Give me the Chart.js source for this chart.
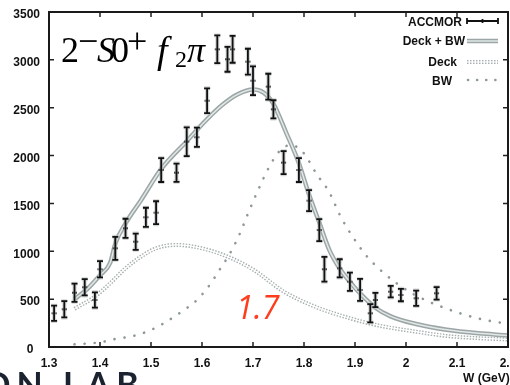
<!DOCTYPE html>
<html><head><meta charset="utf-8">
<script src="https://cdn.jsdelivr.net/npm/chart.js@4.4.1/dist/chart.umd.min.js"></script>
<style>
html,body{margin:0;padding:0;overflow:hidden;background:#fff;width:510px;height:385px;}
#wrap{position:relative;width:514px;height:385px;overflow:hidden;}
canvas{position:absolute;left:0;top:0;}
.t{position:absolute;white-space:nowrap;}
.s{font-family:"Liberation Serif","Times New Roman",serif;color:#000;font-size:36px;line-height:36px;}
</style></head><body>
<div id="wrap">
<canvas id="c" width="514" height="385"></canvas>
<span class="t s" style="left:61px;top:32px;">2</span>
<span class="t s" style="left:78px;top:23px;">&minus;</span>
<span class="t s" style="left:97px;top:32px;font-style:italic;">S</span>
<span class="t s" style="left:111px;top:32px;">0</span>
<span class="t s" style="left:127px;top:23px;">+</span>
<span class="t s" style="left:157px;top:32px;font-style:italic;font-size:38px;">f</span>
<span class="t s" style="left:175px;top:47px;font-size:24px;line-height:24px;">2</span>
<span class="t s" style="left:187px;top:32px;font-style:italic;">&pi;</span>
<span class="t" style="left:236px;top:291px;font:italic 400 32px 'Open Sans',sans-serif;line-height:32px;color:#ff3c1e;">1.7</span>
<span class="t" style="left:-17px;top:367px;font:700 34px Lato,sans-serif;line-height:34px;letter-spacing:6px;color:#1c2330;">ON LAB</span>
<span class="t" style="left:463px;top:371px;font:700 12px 'Liberation Sans',Arial,sans-serif;line-height:14px;color:#111;">W (GeV)</span>
</div>
<script>
// ACCMOR measurements
const accX   = [1.31,1.33,1.35,1.37,1.39,1.40,1.43,1.45,1.47,1.49,1.51,1.52,1.55,1.57,1.59,1.61,1.63,1.65,1.66,1.69,1.70,1.73,1.74,1.76,1.79,1.81,1.83,1.84,1.87,1.89,1.91,1.93,1.94,1.97,1.99,2.02,2.06];
const accY   = [352,394,567,624,491,812,1031,1240,1100,1355,1403,1849,1821,2145,2191,2573,3110,3006,3110,2981,2782,2720,2483,1926,1849,1529,1222,812,822,682,596,352,491,578,543,509,561];
const accErr = [80,85,95,85,80,85,120,100,85,100,120,125,95,150,100,130,145,130,140,135,150,135,95,120,125,110,115,130,95,95,115,95,75,60,65,80,65];
// Deck + BW fit
const fitX = [1.35,1.375,1.40,1.42,1.43,1.45,1.48,1.52,1.57,1.61,1.64,1.67,1.70,1.72,1.74,1.765,1.79,1.81,1.83,1.85,1.87,1.89,1.91,1.94,1.97,2.02,2.08,2.15,2.2];
const fitY = [498,606,750,880,1080,1290,1530,1860,2150,2380,2530,2640,2690,2660,2540,2240,1920,1590,1300,1010,820,680,560,410,320,240,180,140,120];
// Deck
const deckX = [1.35,1.39,1.42,1.45,1.48,1.51,1.55,1.60,1.65,1.70,1.76,1.82,1.89,1.95,2.02,2.08,2.15,2.2];
const deckY = [400,526,666,822,943,1031,1066,1031,945,810,580,425,300,220,160,115,90,78];
// BW
const bwX = [1.35,1.40,1.43,1.465,1.50,1.53,1.56,1.59,1.615,1.635,1.655,1.673,1.693,1.716,1.732,1.751,1.774,1.797,1.826,1.849,1.872,1.902,1.924,1.95,1.98,2.012,2.045,2.078,2.11,2.149,2.185];
const bwY = [28,49,84,115,178,264,369,491,648,812,979,1170,1431,1710,1884,2041,2111,2041,1797,1623,1361,1100,943,804,672,561,473,404,345,289,254];
// axes
const xTickVals = [1.3,1.4,1.5,1.6,1.7,1.8,1.9,2.0,2.1,2.2];
const xTickLabels = ['1.3','1.4','1.5','1.6','1.7','1.8','1.9','2','2.1','2.2'];
const yTickVals = [0,500,1000,1500,2000,2500,3000,3500];
const yTickLabels = ['0  ','500','1000','1500','2000','2500','3000','3500'];
const legendLabels = ['ACCMOR','Deck + BW','Deck','BW'];

const pts = (xs, ys) => xs.map((x, i) => ({x: x, y: ys[i]}));

const FIT_OUT = '#9da6a6', FIT_IN = '#e2e7e7';
const DECK_OUT = '#a7afaf';
const BW_COL = '#8e9898';

const decor = {
  id: 'decor',
  afterDatasetsDraw(chart) {
    const ctx = chart.ctx, xs = chart.scales.x, ys = chart.scales.y;
    ctx.save();
    ctx.beginPath();
    ctx.rect(chart.chartArea.left, chart.chartArea.top, chart.chartArea.right - chart.chartArea.left, chart.chartArea.bottom - chart.chartArea.top);
    ctx.clip();
    const drawBar = (w, col) => {
      ctx.strokeStyle = col; ctx.lineWidth = w; ctx.lineCap = 'butt';
      for (let i = 0; i < accX.length; i++) {
        const px = xs.getPixelForValue(accX[i]);
        const p1 = ys.getPixelForValue(accY[i] + accErr[i]);
        const p2 = ys.getPixelForValue(accY[i] - accErr[i]);
        ctx.beginPath();
        ctx.moveTo(px, p1); ctx.lineTo(px, p2);
        ctx.moveTo(px - 3, p1); ctx.lineTo(px + 3, p1);
        ctx.moveTo(px - 3, p2); ctx.lineTo(px + 3, p2);
        ctx.stroke();
      }
    };
    drawBar(4, 'rgba(180,185,185,0.6)');
    drawBar(1.8, '#111');
    ctx.restore();
  },
  afterDraw(chart) {
    const ctx = chart.ctx, a = chart.chartArea, xs = chart.scales.x, ys = chart.scales.y;
    ctx.save();
    // inward ticks
    ctx.strokeStyle = '#222'; ctx.lineWidth = 1.5;
    ctx.beginPath();
    xTickVals.forEach(v => {
      const px = xs.getPixelForValue(v);
      ctx.moveTo(px, a.bottom); ctx.lineTo(px, a.bottom - 5);
      ctx.moveTo(px, a.top); ctx.lineTo(px, a.top + 5);
    });
    yTickVals.forEach(v => {
      const py = ys.getPixelForValue(v);
      ctx.moveTo(a.left, py); ctx.lineTo(a.left + 5, py);
      ctx.moveTo(a.right, py); ctx.lineTo(a.right - 5, py);
    });
    ctx.stroke();
    // frame
    ctx.strokeStyle = '#1a1a1a'; ctx.lineWidth = 2;
    ctx.strokeRect(a.left, a.top, a.right - a.left, a.bottom - a.top);
    // legend
    ctx.font = 'bold 12px "Liberation Sans", Arial, sans-serif';
    ctx.fillStyle = '#111'; ctx.textAlign = 'right'; ctx.textBaseline = 'middle';
    const rows = [{y: 23, tx: 462, ly: 21}, {y: 42, tx: 465, ly: 41}, {y: 63, tx: 457, ly: 62}, {y: 82, tx: 452, ly: 80}];
    rows.forEach((r, i) => ctx.fillText(legendLabels[i], r.tx, r.y));
    const x0 = 467, x1 = 498;
    // ACCMOR sample
    ctx.strokeStyle = '#111'; ctx.lineWidth = 1.8;
    ctx.beginPath();
    ctx.moveTo(x0, rows[0].ly); ctx.lineTo(x1, rows[0].ly);
    ctx.moveTo(x0, rows[0].ly - 3); ctx.lineTo(x0, rows[0].ly + 3);
    ctx.moveTo(x1, rows[0].ly - 3); ctx.lineTo(x1, rows[0].ly + 3);
    ctx.moveTo((x0 + x1) / 2, rows[0].ly - 2); ctx.lineTo((x0 + x1) / 2, rows[0].ly + 2);
    ctx.stroke();
    // Deck + BW sample
    ctx.beginPath(); ctx.strokeStyle = FIT_OUT; ctx.lineWidth = 4.5;
    ctx.moveTo(x0, rows[1].ly); ctx.lineTo(x1, rows[1].ly); ctx.stroke();
    ctx.beginPath(); ctx.strokeStyle = FIT_IN; ctx.lineWidth = 1.5;
    ctx.moveTo(x0, rows[1].ly); ctx.lineTo(x1, rows[1].ly); ctx.stroke();
    // Deck sample
    ctx.setLineDash([1.5, 1.5]);
    ctx.beginPath(); ctx.strokeStyle = DECK_OUT; ctx.lineWidth = 4;
    ctx.moveTo(x0, rows[2].ly); ctx.lineTo(x1, rows[2].ly); ctx.stroke();
    ctx.setLineDash([]);
    ctx.beginPath(); ctx.strokeStyle = '#fff'; ctx.lineWidth = 1.2;
    ctx.moveTo(x0, rows[2].ly); ctx.lineTo(x1, rows[2].ly); ctx.stroke();
    // BW sample
    ctx.setLineDash([0.1, 9]); ctx.lineCap = 'round';
    ctx.beginPath(); ctx.strokeStyle = BW_COL; ctx.lineWidth = 2.6;
    ctx.moveTo(x0 + 1, rows[3].ly); ctx.lineTo(x1, rows[3].ly); ctx.stroke();
    ctx.restore();
  }
};

const tickFont = {family: '"Liberation Sans", Arial, sans-serif', size: 12, weight: 'bold'};

new Chart(document.getElementById('c'), {
  type: 'line',
  data: {
    datasets: [
      {label: legendLabels[0], data: pts(accX, accY), showLine: false, pointStyle: 'line', pointRadius: 2.5, pointBorderWidth: 2, pointBorderColor: '#111', pointBackgroundColor: '#111', order: 0},
      {label: legendLabels[1], data: pts(fitX, fitY), borderColor: FIT_IN, borderWidth: 1.5, pointRadius: 0, cubicInterpolationMode: 'monotone', order: 1},
      {label: legendLabels[1] + ' outline', data: pts(fitX, fitY), borderColor: FIT_OUT, borderWidth: 4.5, pointRadius: 0, cubicInterpolationMode: 'monotone', order: 2},
      {label: legendLabels[3], data: pts(bwX, bwY), borderColor: BW_COL, borderWidth: 2.6, borderDash: [0.1, 10], borderCapStyle: 'round', pointRadius: 0, cubicInterpolationMode: 'monotone', order: 3},
      {label: legendLabels[2] + ' inner', data: pts(deckX, deckY), borderColor: '#ffffff', borderWidth: 1.2, pointRadius: 0, cubicInterpolationMode: 'monotone', order: 4},
      {label: legendLabels[2], data: pts(deckX, deckY), borderColor: DECK_OUT, borderWidth: 4, borderDash: [1.5, 1.5], pointRadius: 0, cubicInterpolationMode: 'monotone', order: 5}
    ]
  },
  options: {
    responsive: false,
    devicePixelRatio: 1,
    animation: false,
    events: [],
    layout: {padding: {top: 12, right: 6, bottom: 0, left: 0}},
    plugins: {legend: {display: false}, tooltip: {enabled: false}},
    scales: {
      x: {
        type: 'linear', min: 1.3, max: 2.2,
        afterBuildTicks: s => { s.ticks = xTickVals.map(v => ({value: v})); },
        afterFit: s => { s.height = 38; s.paddingLeft = 0; s.paddingRight = 0; },
        grid: {display: false, drawTicks: false},
        border: {display: false},
        ticks: {padding: 9, maxRotation: 0, autoSkip: false, color: '#111', font: tickFont,
          callback: (v) => xTickLabels[xTickVals.findIndex(t => Math.abs(t - v) < 1e-6)]}
      },
      y: {
        type: 'linear', min: 0, max: 3500,
        afterBuildTicks: s => { s.ticks = yTickVals.map(v => ({value: v})); },
        afterFit: s => { s.width = 49; s.paddingTop = 0; s.paddingBottom = 0; },
        grid: {display: false, drawTicks: false},
        border: {display: false},
        ticks: {padding: 9, labelOffset: 3, color: '#111', font: tickFont,
          callback: (v) => yTickLabels[yTickVals.indexOf(v)]}
      }
    }
  },
  plugins: [decor]
});
</script>
</body></html>
